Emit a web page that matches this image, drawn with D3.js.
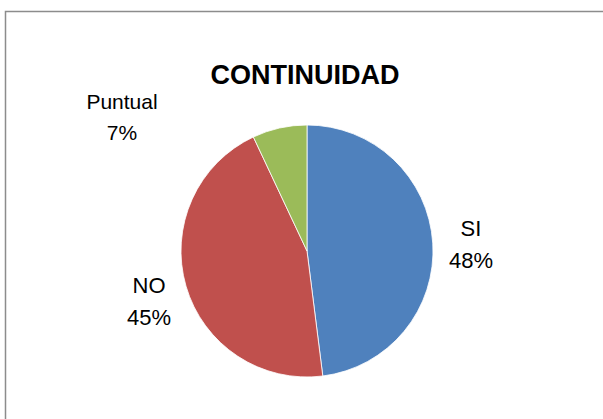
<!DOCTYPE html>
<html>
<head>
<meta charset="utf-8">
<script src="https://cdn.jsdelivr.net/npm/d3@7"></script>
<style>
  body { margin: 0; background: #fff; }
  text { font-family: "Liberation Sans", Arial, sans-serif; fill: #000; }
</style>
</head>
<body>
<div id="chart"></div>
<script>
// data
var categories = ["SI", "NO", "Puntual"];
var values = [48, 45, 7];
var colors = ["#4F81BD", "#C0504D", "#9BBB59"];
// label anchor points (centre x, baseline of first line)
var labelX = [471, 149, 122];
var labelY = [236, 293, 109];

var svgWidth = 603;
var svgHeight = 419;
var cx = 307, cy = 251, radius = 126;

var svg = d3.select("#chart")
  .append("svg")
  .attr("width", svgWidth)
  .attr("height", svgHeight);

// chart frame (runs off the right and bottom edges)
svg.append("rect")
  .attr("x", 5.5)
  .attr("y", 11.5)
  .attr("width", 700)
  .attr("height", 500)
  .attr("fill", "#fff")
  .attr("stroke", "#8c8c8c")
  .attr("stroke-width", 1.5);

svg.append("text")
  .attr("x", 305)
  .attr("y", 84)
  .attr("text-anchor", "middle")
  .style("font-size", "27px")
  .style("font-weight", "bold")
  .text("CONTINUIDAD");

var pie = d3.pie().sort(null).value(d => d);
var arc = d3.arc().innerRadius(0).outerRadius(radius);

var pieGroup = svg.append("g").attr("transform", `translate(${cx}, ${cy})`);

pieGroup.selectAll("path")
  .data(pie(values))
  .enter()
  .append("path")
  .attr("d", arc)
  .attr("fill", (d, i) => colors[i])
  .attr("stroke", "#fff")
  .attr("stroke-width", 0.8);

// labels: category on first line, percent on second
var total = d3.sum(values);
var labels = svg.selectAll(".lbl")
  .data(values)
  .enter()
  .append("text")
  .attr("class", "lbl")
  .attr("text-anchor", "middle")
  .style("font-size", (d, i) => i == 2 ? "21px" : "22px");

labels.append("tspan")
  .attr("x", (d, i) => labelX[i])
  .attr("y", (d, i) => labelY[i])
  .text((d, i) => categories[i]);

labels.append("tspan")
  .attr("x", (d, i) => labelX[i])
  .attr("dy", (d, i) => i == 2 ? 31 : 32)
  .text(d => Math.round(d / total * 100) + "%");
</script>
</body>
</html>
